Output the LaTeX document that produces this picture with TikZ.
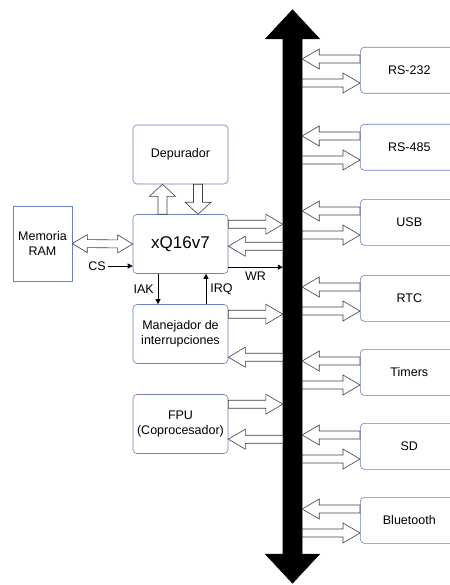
\documentclass[tikz,border=0pt]{standalone}
\usepackage{fontspec}
\setmainfont{Liberation Sans}
\usetikzlibrary{arrows.meta,calc}
\definecolor{borde}{RGB}{108,128,190}
\tikzset{
  ancho/.store in=\anchoflecha, punta/.store in=\puntaflecha, largo/.store in=\largoflecha,
  ancho=4pt, punta=10pt, largo=17pt,
  caja/.style={draw=borde, line width=0.6pt, rounded corners=4pt, minimum width=95pt, minimum height=59pt,
    align=center, inner sep=0pt, font=\fontsize{12.5}{15}\selectfont},
  perif/.style={caja, anchor=north west, minimum width=98pt, minimum height=46pt},
  etq/.style={inner sep=1pt, font=\fontsize{12.5}{15}\selectfont},
  senal/.style={-{Triangle[length=5pt,width=5pt]}, line width=0.6pt},
  flecha/.style={draw=black!75, fill=white, line width=0.6pt,
    to path={let \p1=(\tikztostart), \p2=(\tikztotarget), \p3=($(\p2)!\largoflecha!(\p1)$) in
      ($(\p1)!\anchoflecha!90:(\p2)$) -- ($(\p3)!\anchoflecha!90:(\p2)$) -- ($(\p3)!\puntaflecha!90:(\p2)$)
      -- (\p2) -- ($(\p3)!\puntaflecha!-90:(\p2)$) -- ($(\p3)!\anchoflecha!-90:(\p2)$)
      -- ($(\p1)!\anchoflecha!-90:(\p2)$) -- cycle}},
  flechadoble/.style={draw=black!75, fill=white, line width=0.6pt,
    to path={let \p1=(\tikztostart), \p2=(\tikztotarget), \p3=($(\p2)!\largoflecha!(\p1)$),
      \p4=($(\p1)!\largoflecha!(\p2)$) in
      (\p1) -- ($(\p4)!\puntaflecha!90:(\p2)$) -- ($(\p4)!\anchoflecha!90:(\p2)$) -- ($(\p3)!\anchoflecha!90:(\p2)$)
      -- ($(\p3)!\puntaflecha!90:(\p2)$) -- (\p2) -- ($(\p3)!\puntaflecha!-90:(\p2)$)
      -- ($(\p3)!\anchoflecha!-90:(\p2)$) -- ($(\p4)!\anchoflecha!-90:(\p2)$) -- ($(\p4)!\puntaflecha!-90:(\p2)$) -- cycle}}
}
\begin{document}
\begin{tikzpicture}[x=1pt, y=-1pt]
    \useasboundingbox (0,0) rectangle (449,585);
    % bus
    \node[minimum width=19pt, minimum height=573pt, inner sep=0pt] (bus) at (292.5,296.5) {};
    \draw[flechadoble, draw=black, fill=black, ancho=9.5pt, punta=27pt, largo=29pt] (bus.north) to (bus.south);
    % procesador y bloques
    \node[caja] (dep) at (180.5,154.5) {Depurador};
    \node[caja, font=\fontsize{17}{20}\selectfont] (cpu) at (180.5,244) {xQ16v7};
    \node[caja] (man) at (180.5,334) {Manejador de\\interrupciones};
    \node[caja] (fpu) at (180.5,424) {FPU\\(Coprocesador)};
    \node[caja, sharp corners, minimum width=59pt, minimum height=75pt] (ram) at (42.5,243.5) {Memoria\\RAM};
    \draw[flechadoble, ancho=4pt, punta=9pt, largo=15pt] (ram.east) to (cpu.west);
    \draw[flecha, ancho=4.5pt, punta=13pt, largo=12pt] ([xshift=-18pt]cpu.north) to ([xshift=-18pt]dep.south);
    \draw[flecha, ancho=4.5pt, punta=13pt, largo=12pt] ([xshift=17.5pt]dep.south) to ([xshift=17.5pt]cpu.north);
    \node[etq] (cs) at (97,266) {CS};
    \draw[senal] ([xshift=1pt]cs.east) -- (cs.east -| cpu.west);
    \draw[senal] ([xshift=-22.5pt]cpu.south) -- ([xshift=-22.5pt]man.north) node[etq, midway, left=3pt] {IAK};
    \draw[senal] ([xshift=25.5pt]man.north) -- ([xshift=25.5pt]cpu.south) node[etq, midway, right=3pt] {IRQ};
    \draw[flecha] ([yshift=-10pt]cpu.north east) to ([yshift=-10pt]cpu.north east -| bus.west);
    \draw[flecha] ([yshift=-32pt]cpu.north east -| bus.west) to ([yshift=-32pt]cpu.north east);
    \draw[senal] ([yshift=-53pt]cpu.north east) -- ([yshift=-53pt]cpu.north east -| bus.west) node[etq, midway, below=3pt] {WR};
    \draw[flecha] ([yshift=-10pt]man.north east) to ([yshift=-10pt]man.north east -| bus.west);
    \draw[flecha] ([yshift=-53pt]man.north east -| bus.west) to ([yshift=-53pt]man.north east);
    \draw[flecha] ([yshift=-10pt]fpu.north east) to ([yshift=-10pt]fpu.north east -| bus.west);
    \draw[flecha] ([yshift=-45pt]fpu.north east -| bus.west) to ([yshift=-45pt]fpu.north east);
    % perifericos
    \node[perif] (rs232) at (360,47) {RS-232};
    \node[perif] (rs485) at (360,124) {RS-485};
    \node[perif] (usb) at (360,199) {USB};
    \node[perif] (rtc) at (360,275) {RTC};
    \node[perif] (tim) at (360,349) {Timers};
    \node[perif] (sd) at (360,423) {SD};
    \node[perif] (bt) at (360,497) {Bluetooth};
    \draw[flecha] ([yshift=-12pt]rs232.north west) to ([yshift=-12pt]rs232.north west -| bus.east);
    \draw[flecha] ([yshift=-36pt]rs232.north west -| bus.east) to ([yshift=-36pt]rs232.north west);
    \draw[flecha] ([yshift=-12pt]rs485.north west) to ([yshift=-12pt]rs485.north west -| bus.east);
    \draw[flecha] ([yshift=-36pt]rs485.north west -| bus.east) to ([yshift=-36pt]rs485.north west);
    \draw[flecha] ([yshift=-12pt]usb.north west) to ([yshift=-12pt]usb.north west -| bus.east);
    \draw[flecha] ([yshift=-36pt]usb.north west -| bus.east) to ([yshift=-36pt]usb.north west);
    \draw[flecha] ([yshift=-12pt]rtc.north west) to ([yshift=-12pt]rtc.north west -| bus.east);
    \draw[flecha] ([yshift=-36pt]rtc.north west -| bus.east) to ([yshift=-36pt]rtc.north west);
    \draw[flecha] ([yshift=-12pt]tim.north west) to ([yshift=-12pt]tim.north west -| bus.east);
    \draw[flecha] ([yshift=-36pt]tim.north west -| bus.east) to ([yshift=-36pt]tim.north west);
    \draw[flecha] ([yshift=-12pt]sd.north west) to ([yshift=-12pt]sd.north west -| bus.east);
    \draw[flecha] ([yshift=-36pt]sd.north west -| bus.east) to ([yshift=-36pt]sd.north west);
    \draw[flecha] ([yshift=-12pt]bt.north west) to ([yshift=-12pt]bt.north west -| bus.east);
    \draw[flecha] ([yshift=-36pt]bt.north west -| bus.east) to ([yshift=-36pt]bt.north west);
\end{tikzpicture}
\end{document}
